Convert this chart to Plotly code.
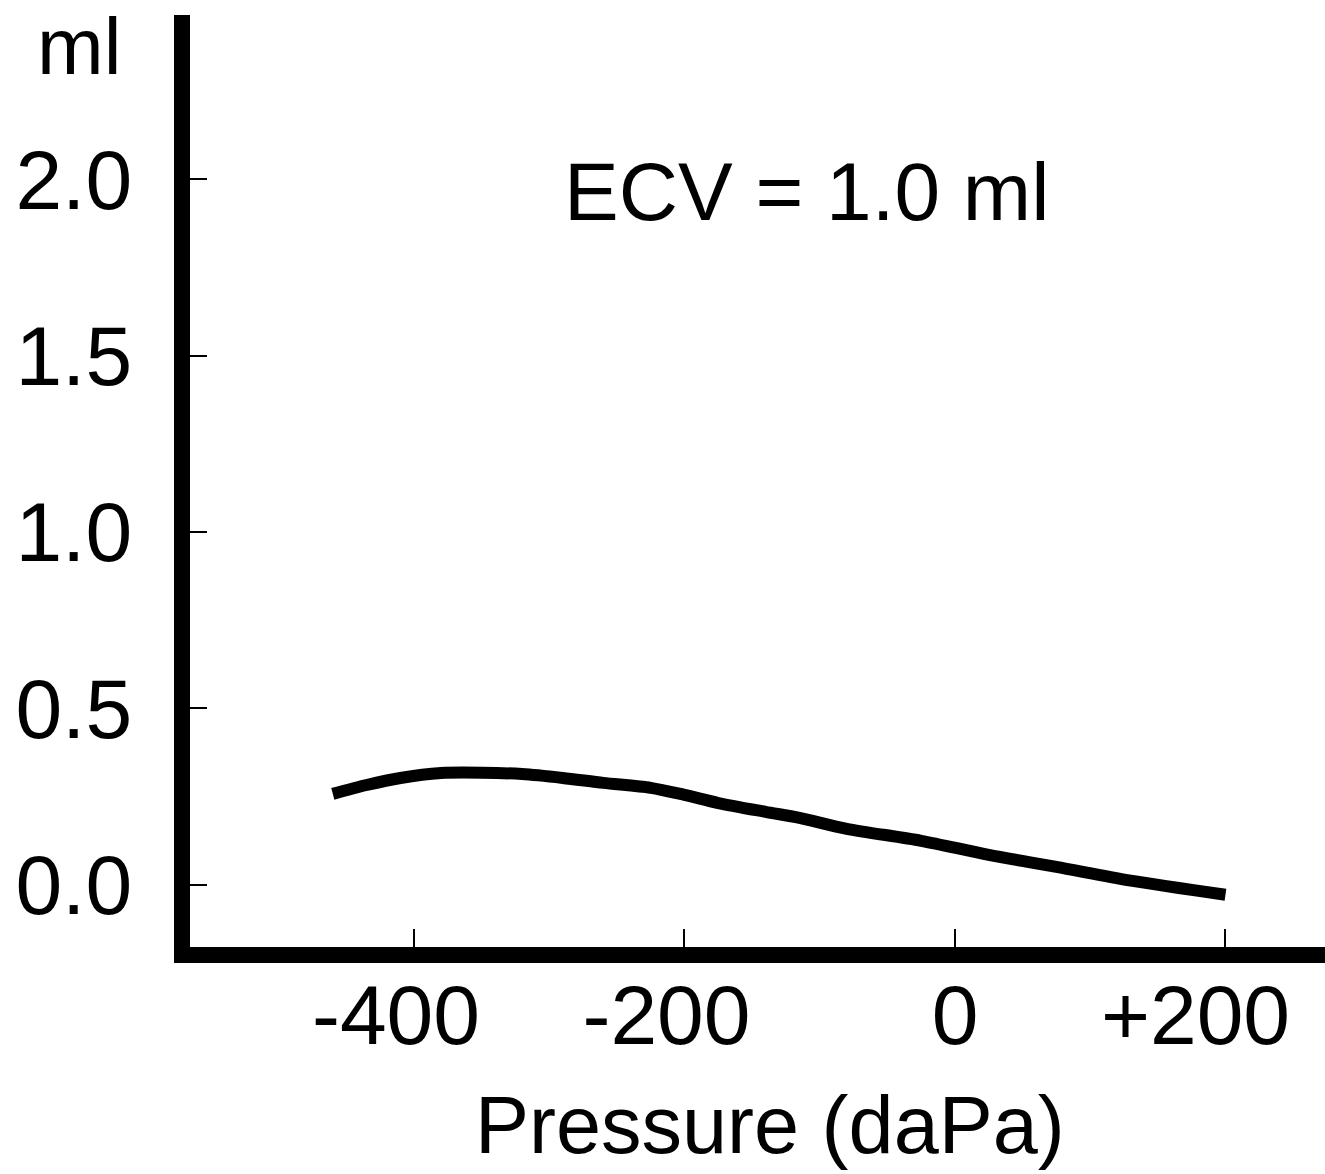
import plotly.graph_objects as go

# Data
pressure = [-460, -435, -410, -380, -350, -320, -290, -260, -225, -200, -175,
            -140, -115, -80, -25, 25, 75, 130, 200]
volume = [0.258, 0.283, 0.303, 0.317, 0.318, 0.314, 0.303, 0.289, 0.275, 0.255,
          0.232, 0.207, 0.190, 0.159, 0.125, 0.085, 0.051, 0.012, -0.028]

x_tickvals = [-400, -200, 0, 200]
x_ticklabels = ["-400", "-200", "0", "+200"]
y_tickvals = [0, 0.5, 1.0, 1.5, 2.0]
y_ticktext = ["0.0", "0.5", "1.0", "1.5", "2.0"]

FONT = "Liberation Sans, Arial, sans-serif"

# invisible spacers so the digits (not the signs) sit over the ticks
def pad(size):
    return '<span style="color:rgba(0,0,0,0);font-size:%dpx">+</span>' % size

x_ticktext = [x_ticklabels[0], x_ticklabels[1],
              pad(62) + x_ticklabels[2], x_ticklabels[3] + pad(41)]

fig = go.Figure()
fig.add_trace(go.Scatter(
    x=pressure, y=volume, mode="lines",
    line=dict(color="black", width=12, shape="spline", smoothing=0.8),
    showlegend=False, hoverinfo="skip",
))

fig.update_layout(
    width=1325, height=1174,
    margin=dict(l=190, r=0, t=15, b=227, autoexpand=False),
    paper_bgcolor="white", plot_bgcolor="white",
    font=dict(family=FONT, size=82, color="black"),
    xaxis=dict(
        range=[-565.6, 273.6], showgrid=False, zeroline=False,
        showline=True, linewidth=16, linecolor="black",
        ticks="inside", ticklen=18, tickwidth=2, tickcolor="black",
        tickvals=x_tickvals, ticktext=x_ticktext,
        tickfont=dict(family=FONT, size=84, color="black"),
        ticklabelstandoff=-20, ticklabelshift=-18,
        ticklabeloverflow="allow", automargin=False,
    ),
    yaxis=dict(
        range=[-0.176, 2.465], showgrid=False, zeroline=False,
        showline=True, linewidth=16, linecolor="black",
        ticks="inside", ticklen=17, tickwidth=2, tickcolor="black",
        tickvals=y_tickvals, ticktext=y_ticktext,
        tickfont=dict(family=FONT, size=84, color="black"),
        ticklabelstandoff=25, ticklabeloverflow="allow", automargin=False,
    ),
    annotations=[
        dict(text="ml", xref="paper", yref="paper", x=-0.098, y=1.0161,
             xanchor="center", yanchor="top", showarrow=False,
             font=dict(family=FONT, size=80, color="black")),
        dict(text="ECV = 1.0 ml", xref="paper", yref="paper", x=0.543, y=0.811,
             xanchor="center", yanchor="middle", showarrow=False,
             font=dict(family=FONT, size=82, color="black")),
        dict(text="Pressure (daPa)", xref="paper", yref="paper", x=0.511, y=-0.191,
             xanchor="center", yanchor="middle", showarrow=False,
             font=dict(family=FONT, size=81, color="black")),
    ],
)

fig.write_html("out.html")
